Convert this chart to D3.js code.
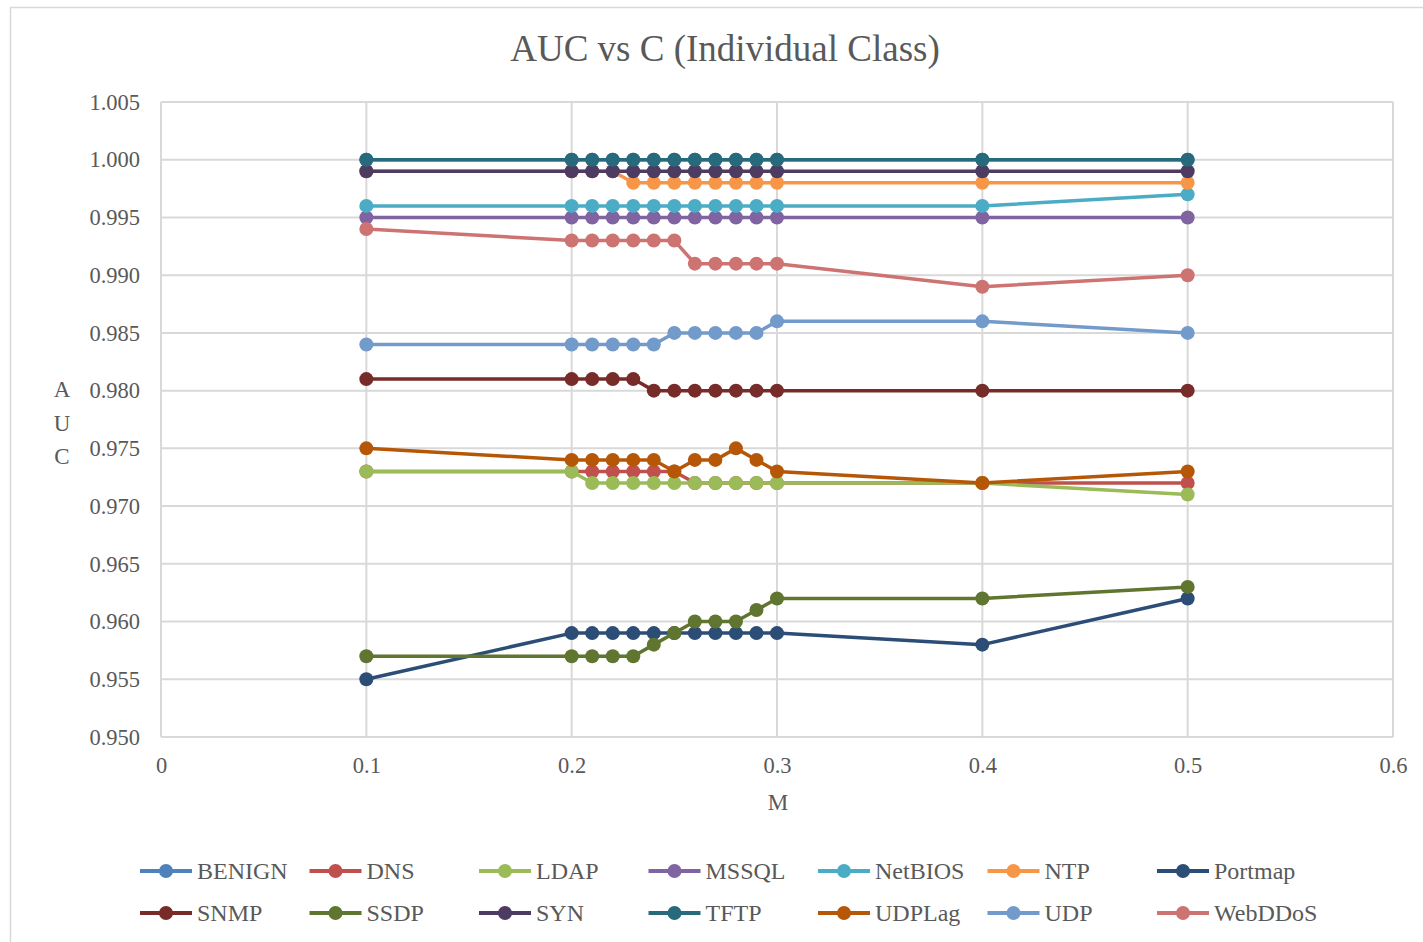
<!DOCTYPE html>
<html>
<head>
<meta charset="utf-8">
<script src="https://cdn.jsdelivr.net/npm/d3@7"></script>
<style>
  body { margin: 0; background: #fff; }
  svg text { font-family: "Liberation Serif", "Times New Roman", serif; fill: #595959; }
</style>
</head>
<body>
<script>
// x values (M)
var mValues = [0.1, 0.2, 0.21, 0.22, 0.23, 0.24, 0.25, 0.26, 0.27, 0.28, 0.29, 0.3, 0.4, 0.5];

var seriesNames = ["BENIGN", "DNS", "LDAP", "MSSQL", "NetBIOS", "NTP", "Portmap",
  "SNMP", "SSDP", "SYN", "TFTP", "UDPLag", "UDP", "WebDDoS"];

var seriesColors = ["#4F81BD", "#C0504D", "#9BBB59", "#8064A2", "#4BACC6", "#F79646", "#2C4D75",
  "#772C2A", "#5F7530", "#4D3B62", "#276A7C", "#B65708", "#729ACA", "#CD7371"];

var benign  = [1.000, 1.000, 1.000, 1.000, 1.000, 1.000, 1.000, 1.000, 1.000, 1.000, 1.000, 1.000, 1.000, 1.000];
var dns     = [0.973, 0.973, 0.973, 0.973, 0.973, 0.973, 0.973, 0.972, 0.972, 0.972, 0.972, 0.972, 0.972, 0.972];
var ldap    = [0.973, 0.973, 0.972, 0.972, 0.972, 0.972, 0.972, 0.972, 0.972, 0.972, 0.972, 0.972, 0.972, 0.971];
var mssql   = [0.995, 0.995, 0.995, 0.995, 0.995, 0.995, 0.995, 0.995, 0.995, 0.995, 0.995, 0.995, 0.995, 0.995];
var netbios = [0.996, 0.996, 0.996, 0.996, 0.996, 0.996, 0.996, 0.996, 0.996, 0.996, 0.996, 0.996, 0.996, 0.997];
var ntp     = [0.999, 0.999, 0.999, 0.999, 0.998, 0.998, 0.998, 0.998, 0.998, 0.998, 0.998, 0.998, 0.998, 0.998];
var portmap = [0.955, 0.959, 0.959, 0.959, 0.959, 0.959, 0.959, 0.959, 0.959, 0.959, 0.959, 0.959, 0.958, 0.962];
var snmp    = [0.981, 0.981, 0.981, 0.981, 0.981, 0.980, 0.980, 0.980, 0.980, 0.980, 0.980, 0.980, 0.980, 0.980];
var ssdp    = [0.957, 0.957, 0.957, 0.957, 0.957, 0.958, 0.959, 0.960, 0.960, 0.960, 0.961, 0.962, 0.962, 0.963];
var syn     = [0.999, 0.999, 0.999, 0.999, 0.999, 0.999, 0.999, 0.999, 0.999, 0.999, 0.999, 0.999, 0.999, 0.999];
var tftp    = [1.000, 1.000, 1.000, 1.000, 1.000, 1.000, 1.000, 1.000, 1.000, 1.000, 1.000, 1.000, 1.000, 1.000];
var udplag  = [0.975, 0.974, 0.974, 0.974, 0.974, 0.974, 0.973, 0.974, 0.974, 0.975, 0.974, 0.973, 0.972, 0.973];
var udp     = [0.984, 0.984, 0.984, 0.984, 0.984, 0.984, 0.985, 0.985, 0.985, 0.985, 0.985, 0.986, 0.986, 0.985];
var webddos = [0.994, 0.993, 0.993, 0.993, 0.993, 0.993, 0.993, 0.991, 0.991, 0.991, 0.991, 0.991, 0.989, 0.990];

var seriesValues = [benign, dns, ldap, mssql, netbios, ntp, portmap,
  snmp, ssdp, syn, tftp, udplag, udp, webddos];

var xTicks = [0, 0.1, 0.2, 0.3, 0.4, 0.5, 0.6];
var yTicks = [0.950, 0.955, 0.960, 0.965, 0.970, 0.975, 0.980, 0.985, 0.990, 0.995, 1.000, 1.005];

var width = 1423, height = 942;
var plot = { left: 161, right: 1393, top: 102, bottom: 737 };

var svg = d3.select("body").append("svg")
  .attr("width", width)
  .attr("height", height);

// chart frame
svg.append("rect")
  .attr("x", 10.5).attr("y", 7.5)
  .attr("width", 1425).attr("height", 945)
  .attr("fill", "#fff")
  .attr("stroke", "#D9D9D9")
  .attr("stroke-width", 1.5);

var x = d3.scaleLinear().domain([0, 0.6]).range([plot.left, plot.right]);
var y = d3.scaleLinear().domain([0.950, 1.005]).range([plot.bottom, plot.top]);

// gridlines
svg.append("g").selectAll("line.h")
  .data(yTicks).enter().append("line")
  .attr("x1", plot.left).attr("x2", plot.right)
  .attr("y1", d => y(d)).attr("y2", d => y(d))
  .attr("stroke", "#D9D9D9").attr("stroke-width", 2);

svg.append("g").selectAll("line.v")
  .data(xTicks).enter().append("line")
  .attr("x1", d => x(d)).attr("x2", d => x(d))
  .attr("y1", plot.top).attr("y2", plot.bottom)
  .attr("stroke", "#D9D9D9").attr("stroke-width", 2);

// axes (labels only, Excel style)
var yAxis = d3.axisLeft(y).tickValues(yTicks).tickFormat(d3.format(".3f")).tickSize(0).tickPadding(21);
var gy = svg.append("g").attr("transform", "translate(" + plot.left + ",0)").call(yAxis);
gy.select(".domain").remove();
gy.selectAll("text").style("font-size", "22.5px").style("fill", "#595959")
  .style("font-family", '"Liberation Serif", serif');

var xAxis = d3.axisBottom(x).tickValues(xTicks).tickFormat(d3.format("~g")).tickSize(0).tickPadding(20);
var gx = svg.append("g").attr("transform", "translate(0," + plot.bottom + ")").call(xAxis);
gx.select(".domain").remove();
gx.selectAll("text").style("font-size", "22.5px").style("fill", "#595959")
  .style("font-family", '"Liberation Serif", serif');

// title
svg.append("text")
  .attr("x", 725).attr("y", 61)
  .attr("text-anchor", "middle")
  .style("font-size", "37px")
  .text("AUC vs C (Individual Class)");

// axis titles
svg.append("text")
  .attr("x", 778).attr("y", 810)
  .attr("text-anchor", "middle")
  .style("font-size", "23px")
  .text("M");

["A", "U", "C"].forEach(function (ch, i) {
  svg.append("text")
    .attr("x", 62).attr("y", 397 + i * 33.5)
    .attr("text-anchor", "middle")
    .style("font-size", "23px")
    .text(ch);
});

// series
var line = d3.line()
  .x((d, i) => x(mValues[i]))
  .y(d => y(d));

seriesValues.forEach(function (vals, s) {
  var g = svg.append("g").attr("class", "series");
  g.append("path")
    .attr("d", line(vals))
    .attr("fill", "none")
    .attr("stroke", seriesColors[s])
    .attr("stroke-width", 3.5)
    .attr("stroke-linejoin", "round");
  g.selectAll("circle")
    .data(vals).enter().append("circle")
    .attr("cx", (d, i) => x(mValues[i]))
    .attr("cy", d => y(d))
    .attr("r", 7)
    .attr("fill", seriesColors[s]);
});

// legend
var legend = svg.append("g");
seriesNames.forEach(function (name, i) {
  var col = i % 7, row = Math.floor(i / 7);
  var lx = 140 + col * 169.5, ly = 871 + row * 42;
  var item = legend.append("g").attr("transform", "translate(" + lx + "," + ly + ")");
  item.append("line")
    .attr("x1", 0).attr("x2", 52).attr("y1", 0).attr("y2", 0)
    .attr("stroke", seriesColors[i]).attr("stroke-width", 4);
  item.append("circle")
    .attr("cx", 26).attr("cy", 0).attr("r", 7)
    .attr("fill", seriesColors[i]);
  item.append("text")
    .attr("x", 57).attr("y", 8)
    .style("font-size", "24px")
    .text(name);
});
</script>
</body>
</html>
